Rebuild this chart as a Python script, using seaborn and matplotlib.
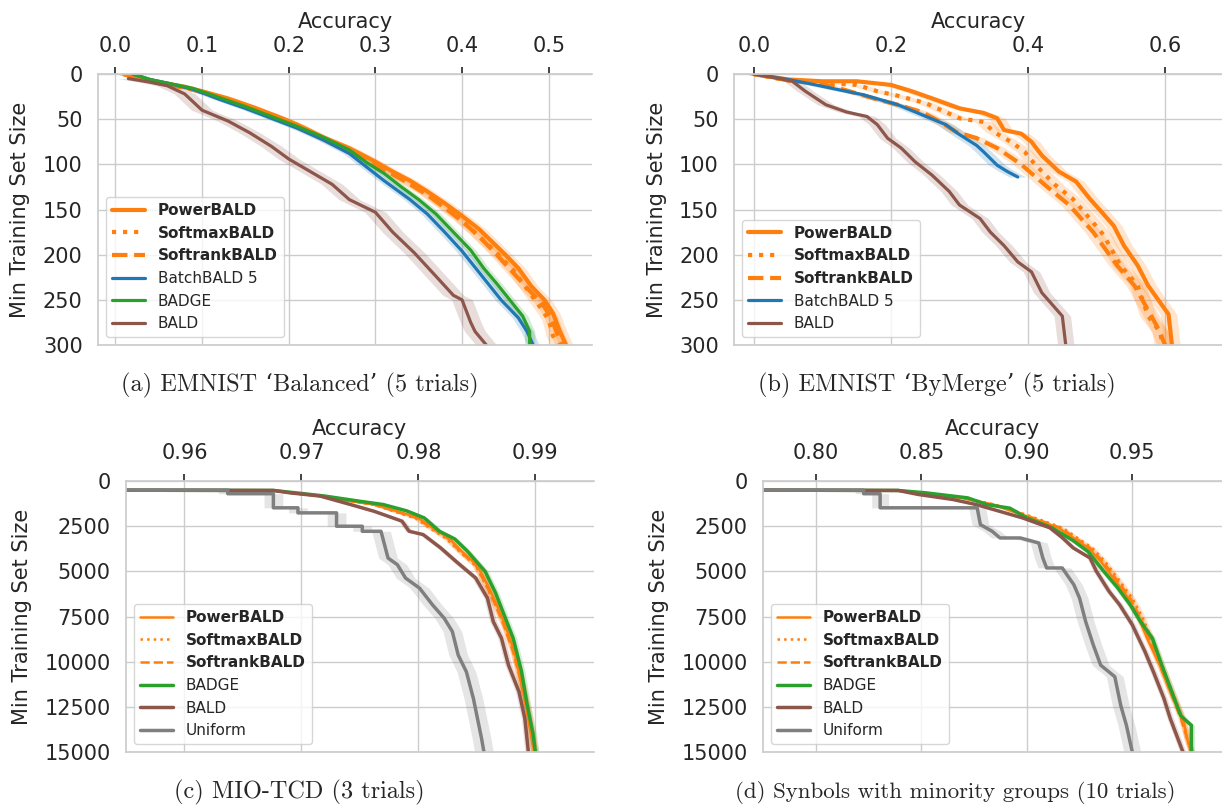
import matplotlib
matplotlib.use("Agg")
import matplotlib.pyplot as plt
import seaborn as sns

# Style
sns.set_theme(style="whitegrid")
plt.rcParams["font.family"] = ["DejaVu Sans"]

# ---------------- data: (a) EMNIST Balanced ----------------
a_power_acc = [0.01, 0.03, 0.05, 0.08, 0.10, 0.13, 0.16, 0.19, 0.21, 0.24, 0.27, 0.30, 0.32, 0.34, 0.36, 0.38, 0.40, 0.42, 0.45, 0.465, 0.48, 0.495, 0.505, 0.513, 0.52]
a_power_size = [0, 5, 9, 14, 19, 27, 37, 48, 56, 70, 82, 97, 108, 118, 130, 143, 157, 172, 200, 215, 235, 250, 265, 285, 300]
a_softmax_acc = [0.01, 0.03, 0.05, 0.08, 0.10, 0.13, 0.16, 0.19, 0.21, 0.24, 0.27, 0.30, 0.32, 0.34, 0.36, 0.38, 0.40, 0.42, 0.44, 0.46, 0.475, 0.49, 0.50, 0.505, 0.51]
a_softmax_size = [0, 6, 10, 15, 20, 28, 38, 49, 57, 71, 84, 99, 110, 121, 133, 147, 162, 180, 198, 218, 238, 258, 272, 290, 300]
a_softrank_acc = [0.01, 0.03, 0.05, 0.08, 0.10, 0.13, 0.16, 0.19, 0.21, 0.24, 0.27, 0.30, 0.32, 0.34, 0.36, 0.38, 0.40, 0.42, 0.44, 0.46, 0.478, 0.493, 0.503, 0.51, 0.515]
a_softrank_size = [0, 6, 10, 15, 20, 28, 38, 49, 58, 72, 85, 100, 111, 122, 134, 148, 163, 180, 200, 221, 240, 255, 270, 288, 300]
a_batch_acc = [0.02, 0.04, 0.06, 0.09, 0.12, 0.15, 0.18, 0.21, 0.24, 0.27, 0.29, 0.31, 0.34, 0.36, 0.38, 0.40, 0.42, 0.445, 0.465, 0.475, 0.482]
a_batch_size = [0, 6, 10, 17, 28, 38, 49, 60, 73, 88, 103, 118, 139, 155, 175, 196, 220, 250, 270, 285, 300]
a_badge_acc = [0.02, 0.04, 0.06, 0.09, 0.12, 0.15, 0.18, 0.21, 0.24, 0.27, 0.29, 0.31, 0.33, 0.35, 0.37, 0.39, 0.41, 0.425, 0.44, 0.455, 0.47, 0.478, 0.478]
a_badge_size = [0, 6, 10, 16, 26, 36, 47, 58, 70, 84, 98, 110, 125, 139, 155, 175, 195, 215, 232, 250, 268, 285, 300]
a_bald_acc = [0.015, 0.04, 0.06, 0.08, 0.10, 0.13, 0.155, 0.18, 0.20, 0.225, 0.25, 0.27, 0.30, 0.32, 0.345, 0.37, 0.39, 0.40, 0.41, 0.415, 0.428]
a_bald_size = [5, 9, 13, 22, 40, 52, 65, 80, 94, 108, 122, 139, 153, 175, 198, 224, 245, 250, 275, 285, 300]

# ---------------- data: (b) EMNIST ByMerge ----------------
b_power_acc = [0.0, 0.05, 0.10, 0.15, 0.20, 0.23, 0.26, 0.30, 0.335, 0.355, 0.365, 0.39, 0.405, 0.42, 0.445, 0.47, 0.49, 0.51, 0.525, 0.54, 0.56, 0.575, 0.59, 0.605, 0.61]
b_power_size = [0, 6, 8, 8, 12, 19, 27, 38, 43, 49, 62, 66, 75, 90, 108, 119, 138, 155, 168, 190, 212, 234, 250, 266, 300]
b_softmax_acc = [0.0, 0.05, 0.10, 0.15, 0.18, 0.21, 0.25, 0.30, 0.335, 0.35, 0.375, 0.395, 0.41, 0.44, 0.465, 0.49, 0.51, 0.535, 0.56, 0.575, 0.593, 0.596]
b_softmax_size = [0, 7, 10, 12, 19, 24, 32, 49, 53, 64, 75, 86, 100, 123, 138, 160, 178, 212, 234, 268, 286, 300]
b_softrank_acc = [0.0, 0.05, 0.10, 0.13, 0.175, 0.21, 0.245, 0.27, 0.295, 0.325, 0.355, 0.39, 0.425, 0.46, 0.495, 0.53, 0.555, 0.58, 0.59, 0.60]
b_softrank_size = [0, 7, 11, 17, 27, 34, 42, 52, 64, 71, 82, 100, 123, 145, 175, 212, 234, 268, 282, 300]
b_batch_acc = [0.0, 0.05, 0.09, 0.115, 0.16, 0.21, 0.245, 0.28, 0.30, 0.325, 0.335, 0.355, 0.37, 0.385]
b_batch_size = [0, 6, 12, 16, 23, 34, 45, 56, 67, 79, 86, 101, 108, 114]
b_bald_acc = [0.0, 0.03, 0.056, 0.075, 0.105, 0.135, 0.165, 0.18, 0.195, 0.215, 0.235, 0.26, 0.285, 0.30, 0.33, 0.345, 0.365, 0.385, 0.405, 0.42, 0.45, 0.455]
b_bald_size = [0, 4, 8, 19, 34, 42, 47, 56, 71, 82, 97, 112, 130, 145, 160, 175, 190, 208, 219, 242, 268, 300]

# ---------------- data: (c) MIO-TCD ----------------
c_power_acc = [0.950, 0.9676, 0.969, 0.9716, 0.9742, 0.9762, 0.9782, 0.980, 0.9812, 0.9826, 0.9837, 0.985, 0.9859, 0.9867, 0.9874, 0.9882, 0.9887, 0.9892, 0.9897, 0.9899]
c_power_size = [500, 520, 650, 830, 1110, 1300, 1670, 2040, 2590, 3150, 3890, 4630, 5740, 6850, 7960, 9440, 10930, 12410, 14260, 15000]
c_softmax_acc = [0.950, 0.9676, 0.969, 0.9716, 0.9742, 0.9762, 0.9780, 0.9798, 0.9810, 0.9824, 0.9836, 0.9849, 0.9858, 0.9866, 0.9874, 0.9882, 0.9888, 0.9893, 0.9898, 0.9900]
c_softmax_size = [500, 520, 650, 830, 1100, 1310, 1700, 2080, 2620, 3200, 3950, 4700, 5800, 6900, 8000, 9500, 11000, 12500, 14300, 15000]
c_softrank_acc = [0.950, 0.9676, 0.969, 0.9716, 0.9742, 0.9762, 0.9781, 0.9799, 0.9811, 0.9825, 0.9836, 0.9849, 0.9858, 0.9866, 0.9873, 0.9881, 0.9887, 0.9892, 0.9897, 0.9899]
c_softrank_size = [500, 520, 650, 830, 1100, 1300, 1690, 2060, 2600, 3170, 3920, 4660, 5770, 6880, 7980, 9470, 10960, 12450, 14280, 15000]
c_badge_acc = [0.950, 0.9676, 0.9695, 0.972, 0.9748, 0.977, 0.979, 0.9805, 0.9818, 0.9831, 0.9842, 0.9857, 0.9866, 0.9872, 0.9881, 0.9888, 0.9893, 0.9898, 0.9900]
c_badge_size = [500, 520, 650, 830, 1100, 1300, 1650, 2040, 2780, 3200, 3890, 5000, 6200, 7200, 8700, 10500, 12400, 14000, 15000]
c_bald_acc = [0.950, 0.9676, 0.969, 0.9716, 0.9742, 0.9762, 0.9786, 0.9792, 0.9804, 0.9819, 0.9832, 0.9849, 0.9859, 0.9864, 0.9871, 0.9877, 0.9886, 0.9891, 0.9894]
c_bald_size = [500, 520, 650, 830, 1300, 1670, 2220, 2780, 2960, 3700, 4440, 5370, 6480, 7780, 8700, 10190, 11670, 13150, 15000]
c_uniform_acc = [0.950, 0.9637, 0.9637, 0.9676, 0.9676, 0.9697, 0.9697, 0.9730, 0.9730, 0.9752, 0.9752, 0.9768, 0.9774, 0.9782, 0.9789, 0.9801, 0.9812, 0.9822, 0.9829, 0.9834, 0.9841, 0.9847, 0.9854, 0.9856]
c_uniform_size = [500, 500, 700, 700, 1480, 1480, 1760, 1760, 2500, 2500, 2780, 2780, 4260, 4630, 5370, 5930, 6850, 7590, 8330, 9630, 10560, 12040, 14260, 15000]

# ---------------- data: (d) Synbols ----------------
d_power_acc = [0.77, 0.839, 0.85, 0.869, 0.884, 0.893, 0.902, 0.915, 0.922, 0.929, 0.935, 0.941, 0.948, 0.953, 0.957, 0.963, 0.968, 0.974, 0.976, 0.978]
d_power_size = [500, 520, 650, 930, 1300, 1670, 2040, 2590, 3150, 3700, 4440, 5370, 6480, 7590, 8700, 10190, 11670, 13150, 14260, 15000]
d_softmax_acc = [0.77, 0.839, 0.851, 0.870, 0.885, 0.895, 0.904, 0.917, 0.924, 0.931, 0.937, 0.943, 0.950, 0.955, 0.959, 0.964, 0.969, 0.974, 0.976, 0.978]
d_softmax_size = [500, 520, 650, 930, 1300, 1670, 2040, 2590, 3150, 3700, 4440, 5370, 6480, 7590, 8700, 10190, 11670, 13150, 14260, 15000]
d_softrank_acc = [0.77, 0.839, 0.85, 0.869, 0.884, 0.894, 0.903, 0.916, 0.923, 0.930, 0.936, 0.942, 0.949, 0.954, 0.958, 0.963, 0.968, 0.973, 0.976, 0.978]
d_softrank_size = [500, 520, 650, 930, 1300, 1670, 2040, 2590, 3150, 3700, 4440, 5370, 6480, 7590, 8700, 10190, 11670, 13150, 14260, 15000]
d_badge_acc = [0.77, 0.839, 0.852, 0.872, 0.881, 0.892, 0.900, 0.912, 0.922, 0.929, 0.9365, 0.943, 0.949, 0.954, 0.9595, 0.964, 0.9685, 0.973, 0.978, 0.978]
d_badge_size = [500, 520, 650, 930, 1300, 1500, 2040, 2590, 3300, 3900, 5000, 5900, 6850, 7800, 8700, 10200, 11600, 13000, 13520, 15000]
d_bald_acc = [0.77, 0.839, 0.8485, 0.865, 0.876, 0.887, 0.898, 0.911, 0.917, 0.922, 0.930, 0.933, 0.939, 0.944, 0.950, 0.956, 0.960, 0.965, 0.968, 0.974]
d_bald_size = [500, 520, 740, 1020, 1300, 1670, 2040, 2590, 3150, 3700, 4260, 5000, 6110, 6850, 7960, 9440, 10560, 12040, 13150, 15000]
d_uniform_acc = [0.77, 0.8227, 0.8227, 0.8305, 0.8305, 0.8765, 0.878, 0.8836, 0.8873, 0.897, 0.9057, 0.9076, 0.9094, 0.9168, 0.9223, 0.925, 0.9279, 0.9315, 0.935, 0.9417, 0.9445, 0.9472, 0.95]
d_uniform_size = [500, 500, 700, 700, 1480, 1480, 2410, 2780, 3150, 3150, 3430, 4260, 4810, 4810, 5740, 6480, 7780, 9070, 10190, 10830, 12410, 13520, 15000]

# half-width of the shaded band (accuracy units)
a_band = [0.008, 0.008, 0.008, 0.007, 0.006, 0.012]
b_band = [0.012, 0.012, 0.012, 0.012, 0.012]
c_band = [0.0003, 0.0003, 0.0003, 0.0003, 0.0003, 0.0008]
d_band = [0.0015, 0.0015, 0.0015, 0.0015, 0.0015, 0.004]

captions = ["(a) EMNIST \u2018Balanced\u2019 (5 trials)",
            "(b) EMNIST \u2018ByMerge\u2019 (5 trials)",
            "(c) MIO-TCD (3 trials)",
            "(d) Synbols with minority groups (10 trials)"]

ORANGE, BLUE, GREEN, BROWN, GRAY = "#ff7f0e", "#1f77b4", "#2ca02c", "#8c564b", "#7f7f7f"


def draw(ax, acc, size, band, color, lw, ls, label):
    lo = [v - band for v in acc]
    hi = [v + band for v in acc]
    ax.fill_betweenx(size, lo, hi, color=color, alpha=0.2, lw=0)
    sns.lineplot(x=acc, y=size, estimator=None, sort=False, ax=ax, color=color,
                 lw=lw, linestyle=ls, label=label)


def style(ax, xlim, xticks, ylim, yticks):
    ax.set_xlim(*xlim)
    ax.set_ylim(*ylim)
    ax.set_xticks(xticks)
    ax.set_yticks(yticks)
    ax.xaxis.tick_top()
    ax.xaxis.set_label_position("top")
    ax.set_xlabel("Accuracy", fontsize=15, labelpad=6)
    ax.set_ylabel("Min Training Set Size", fontsize=15, labelpad=9)
    ax.tick_params(axis="x", top=True, bottom=False, length=5, width=1.2,
                   color="#222222", pad=8, labelsize=15)
    ax.tick_params(axis="y", length=0, pad=11, labelsize=15)
    ax.spines["right"].set_visible(False)
    leg = ax.legend(loc="lower left", fontsize=11, handlelength=2.2)
    for t in leg.get_texts()[:3]:
        t.set_fontweight("bold")


fig = plt.figure(figsize=(12.22, 8.05), dpi=100)
ax_a = fig.add_axes([0.0802, 0.5714, 0.4043, 0.3366])
ax_b = fig.add_axes([0.6007, 0.5714, 0.3993, 0.3366])
ax_c = fig.add_axes([0.1031, 0.0658, 0.3829, 0.3366])
ax_d = fig.add_axes([0.6244, 0.0658, 0.3756, 0.3366])

# (a)
draw(ax_a, a_power_acc, a_power_size, a_band[0], ORANGE, 3, "-", "PowerBALD")
draw(ax_a, a_softmax_acc, a_softmax_size, a_band[1], ORANGE, 3, ":", "SoftmaxBALD")
draw(ax_a, a_softrank_acc, a_softrank_size, a_band[2], ORANGE, 3, "--", "SoftrankBALD")
draw(ax_a, a_batch_acc, a_batch_size, a_band[3], BLUE, 2.3, "-", "BatchBALD 5")
draw(ax_a, a_badge_acc, a_badge_size, a_band[4], GREEN, 2.3, "-", "BADGE")
draw(ax_a, a_bald_acc, a_bald_size, a_band[5], BROWN, 2.3, "-", "BALD")
style(ax_a, (-0.02, 0.55), [0.0, 0.1, 0.2, 0.3, 0.4, 0.5], (300, 0), [0, 50, 100, 150, 200, 250, 300])

# (b)
draw(ax_b, b_power_acc, b_power_size, b_band[0], ORANGE, 3, "-", "PowerBALD")
draw(ax_b, b_softmax_acc, b_softmax_size, b_band[1], ORANGE, 3, ":", "SoftmaxBALD")
draw(ax_b, b_softrank_acc, b_softrank_size, b_band[2], ORANGE, 3, "--", "SoftrankBALD")
draw(ax_b, b_batch_acc, b_batch_size, b_band[3], BLUE, 2.3, "-", "BatchBALD 5")
draw(ax_b, b_bald_acc, b_bald_size, b_band[4], BROWN, 2.3, "-", "BALD")
style(ax_b, (-0.029, 0.683), [0.0, 0.2, 0.4, 0.6], (300, 0), [0, 50, 100, 150, 200, 250, 300])

# (c)
draw(ax_c, c_power_acc, c_power_size, c_band[0], ORANGE, 1.8, "-", "PowerBALD")
draw(ax_c, c_softmax_acc, c_softmax_size, c_band[1], ORANGE, 1.8, ":", "SoftmaxBALD")
draw(ax_c, c_softrank_acc, c_softrank_size, c_band[2], ORANGE, 1.8, "--", "SoftrankBALD")
draw(ax_c, c_badge_acc, c_badge_size, c_band[3], GREEN, 2.5, "-", "BADGE")
draw(ax_c, c_bald_acc, c_bald_size, c_band[4], BROWN, 2.5, "-", "BALD")
draw(ax_c, c_uniform_acc, c_uniform_size, c_band[5], GRAY, 2.5, "-", "Uniform")
style(ax_c, (0.955, 0.995), [0.96, 0.97, 0.98, 0.99], (15000, 0), [0, 2500, 5000, 7500, 10000, 12500, 15000])

# (d)
draw(ax_d, d_power_acc, d_power_size, d_band[0], ORANGE, 1.8, "-", "PowerBALD")
draw(ax_d, d_softmax_acc, d_softmax_size, d_band[1], ORANGE, 1.8, ":", "SoftmaxBALD")
draw(ax_d, d_softrank_acc, d_softrank_size, d_band[2], ORANGE, 1.8, "--", "SoftrankBALD")
draw(ax_d, d_badge_acc, d_badge_size, d_band[3], GREEN, 2.5, "-", "BADGE")
draw(ax_d, d_bald_acc, d_bald_size, d_band[4], BROWN, 2.5, "-", "BALD")
draw(ax_d, d_uniform_acc, d_uniform_size, d_band[5], GRAY, 2.5, "-", "Uniform")
style(ax_d, (0.775, 0.9925), [0.80, 0.85, 0.90, 0.95], (15000, 0), [0, 2500, 5000, 7500, 10000, 12500, 15000])
ax_d.set_xticklabels(["0.80", "0.85", "0.90", "0.95"])

# Captions (LaTeX-like serif)
serif = ["cmr10", "DejaVu Serif"]
fig.text(0.245, 1 - 385 / 805, captions[0], ha="center", va="center", fontsize=17.5, family=serif)
fig.text(0.767, 1 - 385 / 805, captions[1], ha="center", va="center", fontsize=17.5, family=serif)
fig.text(0.245, 1 - 792 / 805, captions[2], ha="center", va="center", fontsize=17.5, family=serif)
fig.text(0.782, 1 - 792 / 805, captions[3], ha="center", va="center", fontsize=16.5, family=serif)

fig.savefig("out.png", dpi=100)
